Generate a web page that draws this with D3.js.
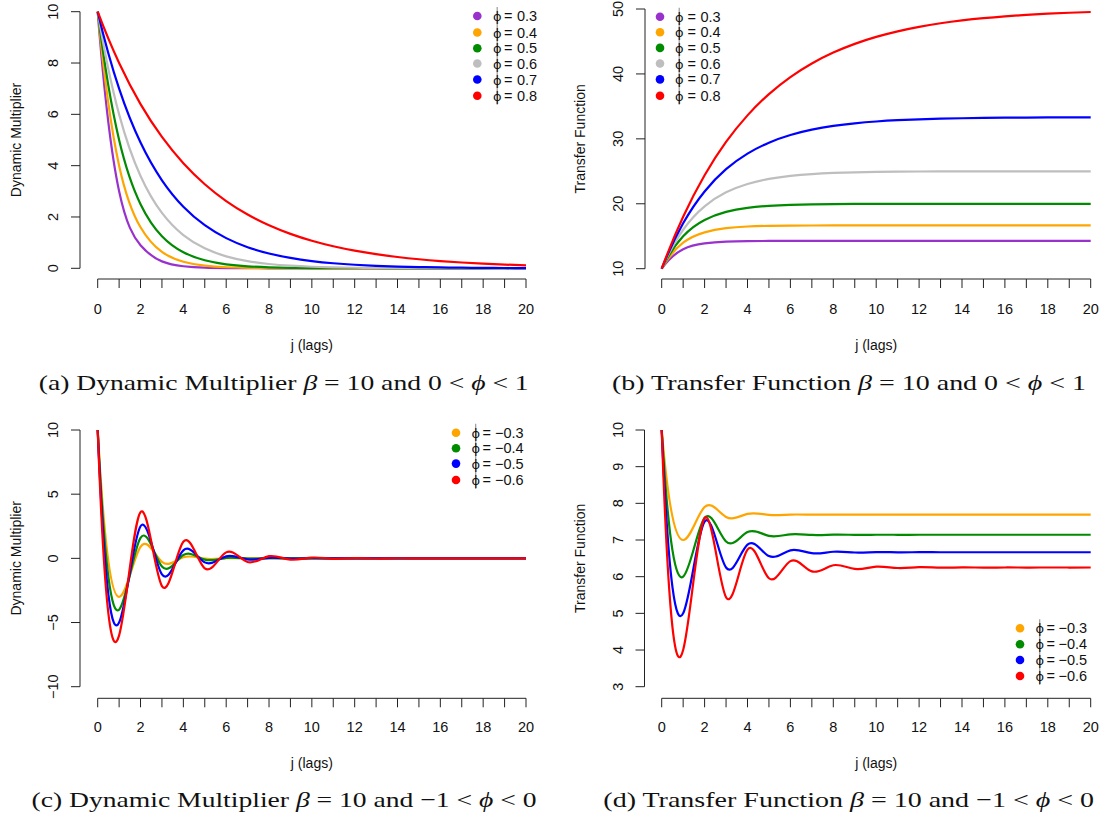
<!DOCTYPE html>
<html><head><meta charset="utf-8">
<script src="https://cdn.jsdelivr.net/npm/d3@7"></script>
<style>
body{margin:0;background:#fff}
svg{display:block}
text{font-family:"Liberation Sans",Arial,sans-serif;fill:#111}
</style>
</head><body>
<svg id="chart" width="1102" height="818"></svg>
<script>
// ---------------- DATA ----------------
const lags = [0,1,2,3,4,5,6,7,8,9,10,11,12,13,14,15,16,17,18,19,20];
const xTicksMajor = [0,2,4,6,8,10,12,14,16,18,20];

const phiPos = ["0.3","0.4","0.5","0.6","0.7","0.8"];
const colorsPos = ["#9932CC","#FFA500","#008B00","#BEBEBE","#0000FF","#FF0000"];
const phiNeg = ["\u22120.3","\u22120.4","\u22120.5","\u22120.6"];
const colorsNeg = ["#FFA500","#008B00","#0000FF","#FF0000"];

// (a) dynamic multiplier, 0 < phi < 1
const dmP03 = [10,3,0.9,0.27,0.081,0.0243,0.0073,0.0022,0.0007,0.0002,0.0001,0,0,0,0,0,0,0,0,0,0];
const dmP04 = [10,4,1.6,0.64,0.256,0.1024,0.041,0.0164,0.0066,0.0026,0.001,0.0004,0.0002,0.0001,0,0,0,0,0,0,0];
const dmP05 = [10,5,2.5,1.25,0.625,0.3125,0.1563,0.0781,0.0391,0.0195,0.0098,0.0049,0.0024,0.0012,0.0006,0.0003,0.0002,0.0001,0,0,0];
const dmP06 = [10,6,3.6,2.16,1.296,0.7776,0.4666,0.2799,0.168,0.1008,0.0605,0.0363,0.0218,0.0131,0.0078,0.0047,0.0028,0.0017,0.001,0.0006,0.0004];
const dmP07 = [10,7,4.9,3.43,2.401,1.6807,1.1765,0.8235,0.5765,0.4035,0.2825,0.1977,0.1384,0.0969,0.0678,0.0475,0.0332,0.0233,0.0163,0.0114,0.008];
const dmP08 = [10,8,6.4,5.12,4.096,3.2768,2.6214,2.0972,1.6777,1.3422,1.0737,0.859,0.6872,0.5498,0.4398,0.3518,0.2815,0.2252,0.1801,0.1441,0.1153];

// (b) transfer function, 0 < phi < 1
const tfP03 = [10,13,13.9,14.17,14.251,14.2753,14.2826,14.2848,14.2854,14.2856,14.2857,14.2857,14.2857,14.2857,14.2857,14.2857,14.2857,14.2857,14.2857,14.2857,14.2857];
const tfP04 = [10,14,15.6,16.24,16.496,16.5984,16.6394,16.6557,16.6623,16.6649,16.666,16.6664,16.6666,16.6666,16.6667,16.6667,16.6667,16.6667,16.6667,16.6667,16.6667];
const tfP05 = [10,15,17.5,18.75,19.375,19.6875,19.8438,19.9219,19.9609,19.9805,19.9902,19.9951,19.9976,19.9988,19.9994,19.9997,19.9998,19.9999,20,20,20];
const tfP06 = [10,16,19.6,21.76,23.056,23.8336,24.3002,24.5801,24.7481,24.8488,24.9093,24.9456,24.9673,24.9804,24.9882,24.9929,24.9958,24.9975,24.9985,24.9991,24.9995];
const tfP07 = [10,17,21.9,25.33,27.731,29.4117,30.5882,31.4117,31.9882,32.3917,32.6742,32.8719,33.0103,33.1072,33.175,33.2225,33.2557,33.279,33.2953,33.3067,33.3147];
const tfP08 = [10,18,24.4,29.52,33.616,36.8928,39.5142,41.6114,43.2891,44.6313,45.705,46.564,47.2512,47.801,48.2408,48.5926,48.8741,49.0993,49.2794,49.4235,49.5388];

// (c) dynamic multiplier, -1 < phi < 0
const dmN03 = [10,-3,0.9,-0.27,0.081,-0.0243,0.0073,-0.0022,0.0007,-0.0002,0.0001,0,0,0,0,0,0,0,0,0,0];
const dmN04 = [10,-4,1.6,-0.64,0.256,-0.1024,0.041,-0.0164,0.0066,-0.0026,0.001,-0.0004,0.0002,-0.0001,0,0,0,0,0,0,0];
const dmN05 = [10,-5,2.5,-1.25,0.625,-0.3125,0.1563,-0.0781,0.0391,-0.0195,0.0098,-0.0049,0.0024,-0.0012,0.0006,-0.0003,0.0002,-0.0001,0,0,0];
const dmN06 = [10,-6,3.6,-2.16,1.296,-0.7776,0.4666,-0.2799,0.168,-0.1008,0.0605,-0.0363,0.0218,-0.0131,0.0078,-0.0047,0.0028,-0.0017,0.001,-0.0006,0.0004];

// (d) transfer function, -1 < phi < 0
const tfN03 = [10,7,7.9,7.63,7.711,7.6867,7.694,7.6918,7.6924,7.6923,7.6923,7.6923,7.6923,7.6923,7.6923,7.6923,7.6923,7.6923,7.6923,7.6923,7.6923];
const tfN04 = [10,6,7.6,6.96,7.216,7.1136,7.1546,7.1382,7.1448,7.1422,7.1432,7.1428,7.143,7.1429,7.1429,7.1429,7.1429,7.1429,7.1429,7.1429,7.1429];
const tfN05 = [10,5,7.5,6.25,6.875,6.5625,6.7188,6.6406,6.6797,6.6602,6.6699,6.665,6.6675,6.6663,6.6669,6.6666,6.6667,6.6667,6.6667,6.6667,6.6667];
const tfN06 = [10,4,7.6,5.44,6.736,5.9584,6.425,6.145,6.313,6.2122,6.2727,6.2364,6.2582,6.2451,6.2529,6.2482,6.2511,6.2494,6.2504,6.2498,6.2501];

const yTicksA = [0,2,4,6,8,10];
const yTicksB = [10,20,30,40,50];
const yTicksC = [-10,-5,0,5,10];
const yTicksD = [3,4,5,6,7,8,9,10];

// ---------------- CURVE (cubic interpolating spline, FMM end conditions) ----------------
function fmmSlopes(x, y){
  const n = x.length, nm1 = n-1;
  const b = new Array(n).fill(0), c = new Array(n).fill(0), d = new Array(n).fill(0);
  if (n < 3){ const s=(y[1]-y[0])/(x[1]-x[0]); return [s,s]; }
  d[0] = x[1]-x[0];
  c[1] = (y[1]-y[0])/d[0];
  for (let i=1;i<nm1;i++){
    d[i] = x[i+1]-x[i];
    b[i] = 2*(d[i-1]+d[i]);
    c[i+1] = (y[i+1]-y[i])/d[i];
    c[i] = c[i+1]-c[i];
  }
  b[0] = -d[0]; b[nm1] = -d[n-2];
  c[0] = 0; c[nm1] = 0;
  if (n > 3){
    c[0] = c[2]/(x[3]-x[1]) - c[1]/(x[2]-x[0]);
    c[nm1] = c[n-2]/(x[nm1]-x[n-3]) - c[n-3]/(x[n-2]-x[n-4]);
    c[0] = c[0]*d[0]*d[0]/(x[3]-x[0]);
    c[nm1] = -c[nm1]*d[n-2]*d[n-2]/(x[nm1]-x[n-4]);
  }
  for (let i=1;i<=nm1;i++){
    const t = d[i-1]/b[i-1];
    b[i] = b[i]-t*d[i-1];
    c[i] = c[i]-t*c[i-1];
  }
  c[nm1] = c[nm1]/b[nm1];
  for (let i=n-2;i>=0;i--) c[i] = (c[i]-d[i]*c[i+1])/b[i];
  const s = new Array(n);
  s[nm1] = (y[nm1]-y[n-2])/d[n-2] + d[n-2]*(c[n-2]+2*c[nm1]);
  for (let i=0;i<nm1;i++) s[i] = (y[i+1]-y[i])/d[i] - d[i]*(c[i+1]+2*c[i]);
  return s;
}
function curveSpline(context){
  let xs=[], ys=[];
  return {
    areaStart(){}, areaEnd(){},
    lineStart(){ xs=[]; ys=[]; },
    point(x,y){ xs.push(+x); ys.push(+y); },
    lineEnd(){
      const n = xs.length; if(!n) return;
      const s = fmmSlopes(xs, ys);
      context.moveTo(xs[0], ys[0]);
      for (let i=0;i<n-1;i++){
        const h = xs[i+1]-xs[i];
        context.bezierCurveTo(xs[i]+h/3, ys[i]+s[i]*h/3, xs[i+1]-h/3, ys[i+1]-s[i+1]*h/3, xs[i+1], ys[i+1]);
      }
    }
  };
}

// ---------------- DRAWING ----------------
const svg = d3.select("#chart");

function panel(cfg){
  const g = svg.append("g");
  const x = d3.scaleLinear().domain([0,20]).range(cfg.xr);
  const y = d3.scaleLinear().domain(cfg.ydom).range(cfg.yr);
  const ink = "#222";

  // x axis (R style: line from first to last tick)
  g.append("line").attr("x1",x(0)).attr("x2",x(20)).attr("y1",cfg.xAxisY).attr("y2",cfg.xAxisY)
    .attr("stroke",ink).attr("stroke-width",1);
  lags.forEach(v=>{
    g.append("line").attr("x1",x(v)).attr("x2",x(v)).attr("y1",cfg.xAxisY).attr("y2",cfg.xAxisY+9)
      .attr("stroke",ink).attr("stroke-width",1);
  });
  xTicksMajor.forEach(v=>{
    g.append("text").attr("x",x(v)).attr("y",cfg.xTickY).attr("text-anchor","middle")
      .attr("font-size",14.5).text(v);
  });
  g.append("text").attr("x",(cfg.xr[0]+cfg.xr[1])/2).attr("y",cfg.xLabY).attr("text-anchor","middle")
    .attr("font-size",14).text("j (lags)");

  // y axis
  const yt = cfg.yticks;
  g.append("line").attr("x1",cfg.yAxisX).attr("x2",cfg.yAxisX)
    .attr("y1",y(d3.min(yt))).attr("y2",y(d3.max(yt))).attr("stroke",ink).attr("stroke-width",1);
  yt.forEach(v=>{
    g.append("line").attr("x1",cfg.yAxisX-9).attr("x2",cfg.yAxisX).attr("y1",y(v)).attr("y2",y(v))
      .attr("stroke",ink).attr("stroke-width",1);
    g.append("text").attr("transform",`translate(${cfg.yAxisX-27},${y(v)}) rotate(-90)`)
      .attr("text-anchor","middle").attr("dy","0.35em").attr("font-size",14.5)
      .text(v<0 ? "\u2212"+Math.abs(v) : v);
  });
  g.append("text").attr("transform",`translate(${cfg.yLabX},${(cfg.yr[0]+cfg.yr[1])/2}) rotate(-90)`)
    .attr("text-anchor","middle").attr("dy","0.35em").attr("font-size",14).text(cfg.ylabel);

  // curves
  const line = d3.line().x((d,i)=>x(lags[i])).y(d=>y(d)).curve(curveSpline);
  cfg.series.forEach((s,i)=>{
    g.append("path").attr("d",line(s)).attr("fill","none")
      .attr("stroke",cfg.colors[i]).attr("stroke-width",2.2);
  });

  // legend
  const L = cfg.legend;
  g.append("line").attr("x1",L.phiX+4.2).attr("x2",L.phiX+4.2)
    .attr("y1",L.rows[0]-9).attr("y2",L.rows[L.rows.length-1]+9)
    .attr("stroke","#9a9a9a").attr("stroke-width",1.2);
  cfg.labels.forEach((lab,i)=>{
    const yy = L.rows[i];
    g.append("circle").attr("cx",L.dotX).attr("cy",yy).attr("r",4.3).attr("fill",cfg.colors[i]);
    const t = g.append("text").attr("y",yy).attr("dy","0.35em").attr("font-size",14.5);
    t.append("tspan").attr("x",L.phiX).attr("font-family","DejaVu Sans").attr("font-size",13).text("\u03D5");
    t.append("tspan").attr("x",L.eqX).text("=");
    t.append("tspan").attr("x",L.numX).text(lab);
  });

  // caption
  const c = svg.append("text").attr("x",cfg.cap.cx).attr("y",cfg.cap.y).attr("text-anchor","middle")
    .style("font-family","'Liberation Serif','Times New Roman',serif").attr("font-size",22)
    .attr("textLength",cfg.cap.w).attr("lengthAdjust","spacingAndGlyphs");
  c.append("tspan").text(cfg.cap.a);
  c.append("tspan").attr("font-style","italic").text("\u03B2");
  c.append("tspan").text(" = 10 and " + cfg.cap.b + " < ");
  c.append("tspan").attr("font-style","italic").text("\u03D5");
  c.append("tspan").text(" < " + cfg.cap.c);
}

panel({
  xr:[97.7,526], ydom:[0,10], yr:[268.3,11.7], yticks:yTicksA, yAxisX:80, xAxisY:279,
  xTickY:313.5, xLabY:350, yLabX:16, ylabel:"Dynamic Multiplier",
  series:[dmP03,dmP04,dmP05,dmP06,dmP07,dmP08], colors:colorsPos, labels:phiPos,
  legend:{dotX:477.3, phiX:493, eqX:504, numX:517, rows:[16,32.5,48.2,63.5,79.5,95.7]},
  cap:{cx:283.7, y:389.5, w:490, a:"(a) Dynamic Multiplier ", b:"0", c:"1"}
});
panel({
  xr:[661.7,1090.7], ydom:[10,50], yr:[268.7,9], yticks:yTicksB, yAxisX:645, xAxisY:279,
  xTickY:313.5, xLabY:350, yLabX:580.5, ylabel:"Transfer Function",
  series:[tfP03,tfP04,tfP05,tfP06,tfP07,tfP08], colors:colorsPos, labels:phiPos,
  legend:{dotX:660, phiX:675, eqX:687.5, numX:700.5, rows:[16.7,32.3,47.9,63.5,79.4,95.7]},
  cap:{cx:849, y:389.5, w:474, a:"(b) Transfer Function ", b:"0", c:"1"}
});
panel({
  xr:[97.7,526], ydom:[-10,10], yr:[686.7,430], yticks:yTicksC, yAxisX:80, xAxisY:698.3,
  xTickY:731.7, xLabY:767.5, yLabX:16, ylabel:"Dynamic Multiplier",
  series:[dmN03,dmN04,dmN05,dmN06], colors:colorsNeg, labels:phiNeg,
  legend:{dotX:456, phiX:471.5, eqX:482.5, numX:495, rows:[432.7,448.3,463.6,480]},
  cap:{cx:284, y:806.7, w:505, a:"(c) Dynamic Multiplier ", b:"\u22121", c:"0"}
});
panel({
  xr:[661.7,1090.7], ydom:[3,10], yr:[686.7,430], yticks:yTicksD, yAxisX:644.5, xAxisY:698.3,
  xTickY:731.7, xLabY:767.5, yLabX:580.5, ylabel:"Transfer Function",
  series:[tfN03,tfN04,tfN05,tfN06], colors:colorsNeg, labels:phiNeg,
  legend:{dotX:1020, phiX:1035.5, eqX:1046.5, numX:1058.5, rows:[628.3,644.2,660,676]},
  cap:{cx:848.7, y:806.7, w:490.7, a:"(d) Transfer Function ", b:"\u22121", c:"0"}
});
</script>
</body></html>
